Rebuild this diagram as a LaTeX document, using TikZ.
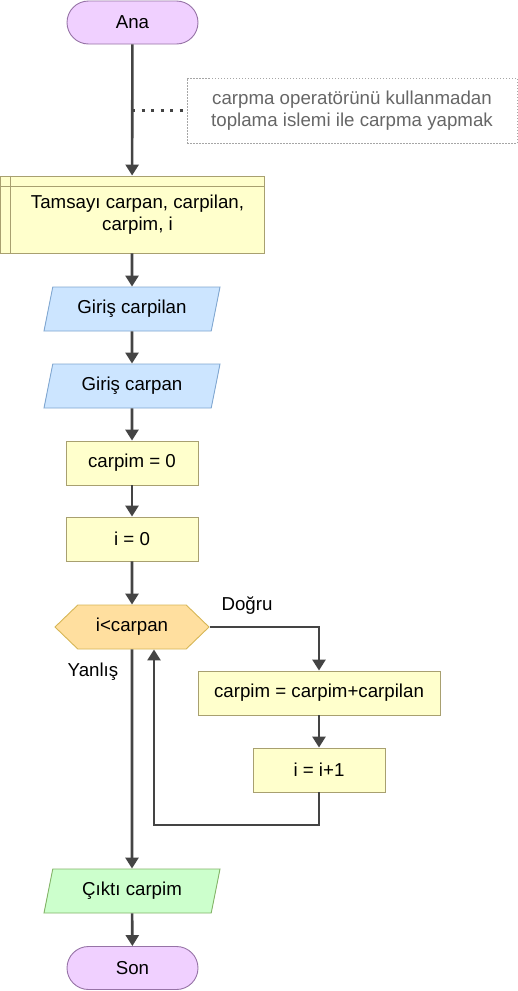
\documentclass[tikz,border=0pt]{standalone}
\usepackage{fontspec}
\setmainfont{Liberation Sans}
\usetikzlibrary{shapes.geometric, shapes.misc, shapes.symbols, arrows.meta}

\definecolor{linec}{HTML}{444444}
\definecolor{termf}{HTML}{F0D0FF}
\definecolor{termb}{HTML}{9673A6}
\definecolor{procf}{HTML}{FFFFCC}
\definecolor{procb}{HTML}{A8A070}
\definecolor{inf}{HTML}{CCE5FF}
\definecolor{inb}{HTML}{7FA6D0}
\definecolor{outf}{HTML}{CCFFCC}
\definecolor{outb}{HTML}{82B366}
\definecolor{decf}{HTML}{FFDF9F}
\definecolor{decb}{HTML}{D6B656}

\begin{document}
\begin{tikzpicture}[x=1pt, y=-1pt, inner sep=0pt,
    font=\fontsize{18.7}{22}\selectfont,
    line/.style={draw=linec, line width=2.6pt},
    flow/.style={line, -{Triangle[width=13pt,length=11pt]}},
    term/.style={rounded rectangle, draw=termb, fill=termf, line width=0.9pt,
      minimum width=131pt, minimum height=43pt},
    proc/.style={rectangle, draw=procb, fill=procf, line width=0.9pt,
      minimum width=132pt, minimum height=44pt},
    io/.style={trapezium, trapezium left angle=63.4, trapezium right angle=116.6,
      trapezium stretches body, line width=0.9pt,
      minimum width=176pt, minimum height=44pt},
    decide/.style={signal, signal to=west and east, signal pointer angle=88,
      draw=decb, fill=decf, line width=0.9pt,
      minimum width=154pt, minimum height=44pt}]
  \useasboundingbox (0,0) rectangle (518,991);

  % Main column of the flowchart
  \node[term] (ana) at (132.5, 22.5) {Ana};
  \node[proc, minimum width=264pt, minimum height=77pt, align=center] (decl) at (132, 214.5)
    {\hspace*{11pt}Tamsayı carpan, carpilan,\\\hspace*{11pt}carpim, i};
  \node[io, draw=inb, fill=inf] (incarpilan) at (132, 309) {Giriş carpilan};
  \node[io, draw=inb, fill=inf] (incarpan) at (132, 386) {Giriş carpan};
  \node[proc] (carpim0) at (132, 463) {carpim = 0};
  \node[proc] (i0) at (132, 539) {i = 0};
  \node[decide] (test) at (132, 627) {i<carpan};
  \node[io, draw=outb, fill=outf] (out) at (132, 891) {Çıktı carpim};
  \node[term] (son) at (132.5, 968) {Son};

  % Loop body
  \node[proc, minimum width=242pt] (add) at (319, 693) {carpim = carpim+carpilan};
  \node[proc] (inc) at (319, 770) {i = i+1};

  % Comment and branch labels
  \node[draw=gray!70, dash pattern=on 1.5pt off 1.5pt, line width=0.8pt,
    minimum width=330pt, minimum height=65pt, align=center, text=black!60] (note) at (352, 110.5)
    {carpma operatörünü kullanmadan\\toplama islemi ile carpma yapmak};
  \node (yes) at (247, 606) {Doğru};
  \node (no) at (93, 672) {Yanlış};

  % Internal storage lines of the declaration box
  \draw[procb, line width=0.9pt] ([xshift=11pt]decl.north west) -- ([xshift=11pt]decl.south west);
  \draw[procb, line width=0.9pt] ([yshift=-11pt]decl.north west) -- ([yshift=-11pt]decl.north east);

  % Connectors
  \coordinate (tap) at (132, 110.5);
  \draw[line, dash pattern=on 3pt off 6.5pt] (tap) -- (note.west);
  \draw[flow] (ana) -- (decl);
  \draw[flow] (decl) -- (incarpilan);
  \draw[flow] (incarpilan) -- (incarpan);
  \draw[flow] (incarpan) -- (carpim0);
  \draw[flow] (carpim0) -- (i0);
  \draw[flow] (i0) -- (test);
  \draw[flow] (test.east) -| (add.north);
  \draw[flow] (add) -- (inc);
  \coordinate (back) at (154, 825);
  \draw[flow] (inc.south) |- (back) -- (back |- test.south);
  \draw[flow] (test) -- (out);
  \draw[flow] (out) -- (son);
\end{tikzpicture}
\end{document}
